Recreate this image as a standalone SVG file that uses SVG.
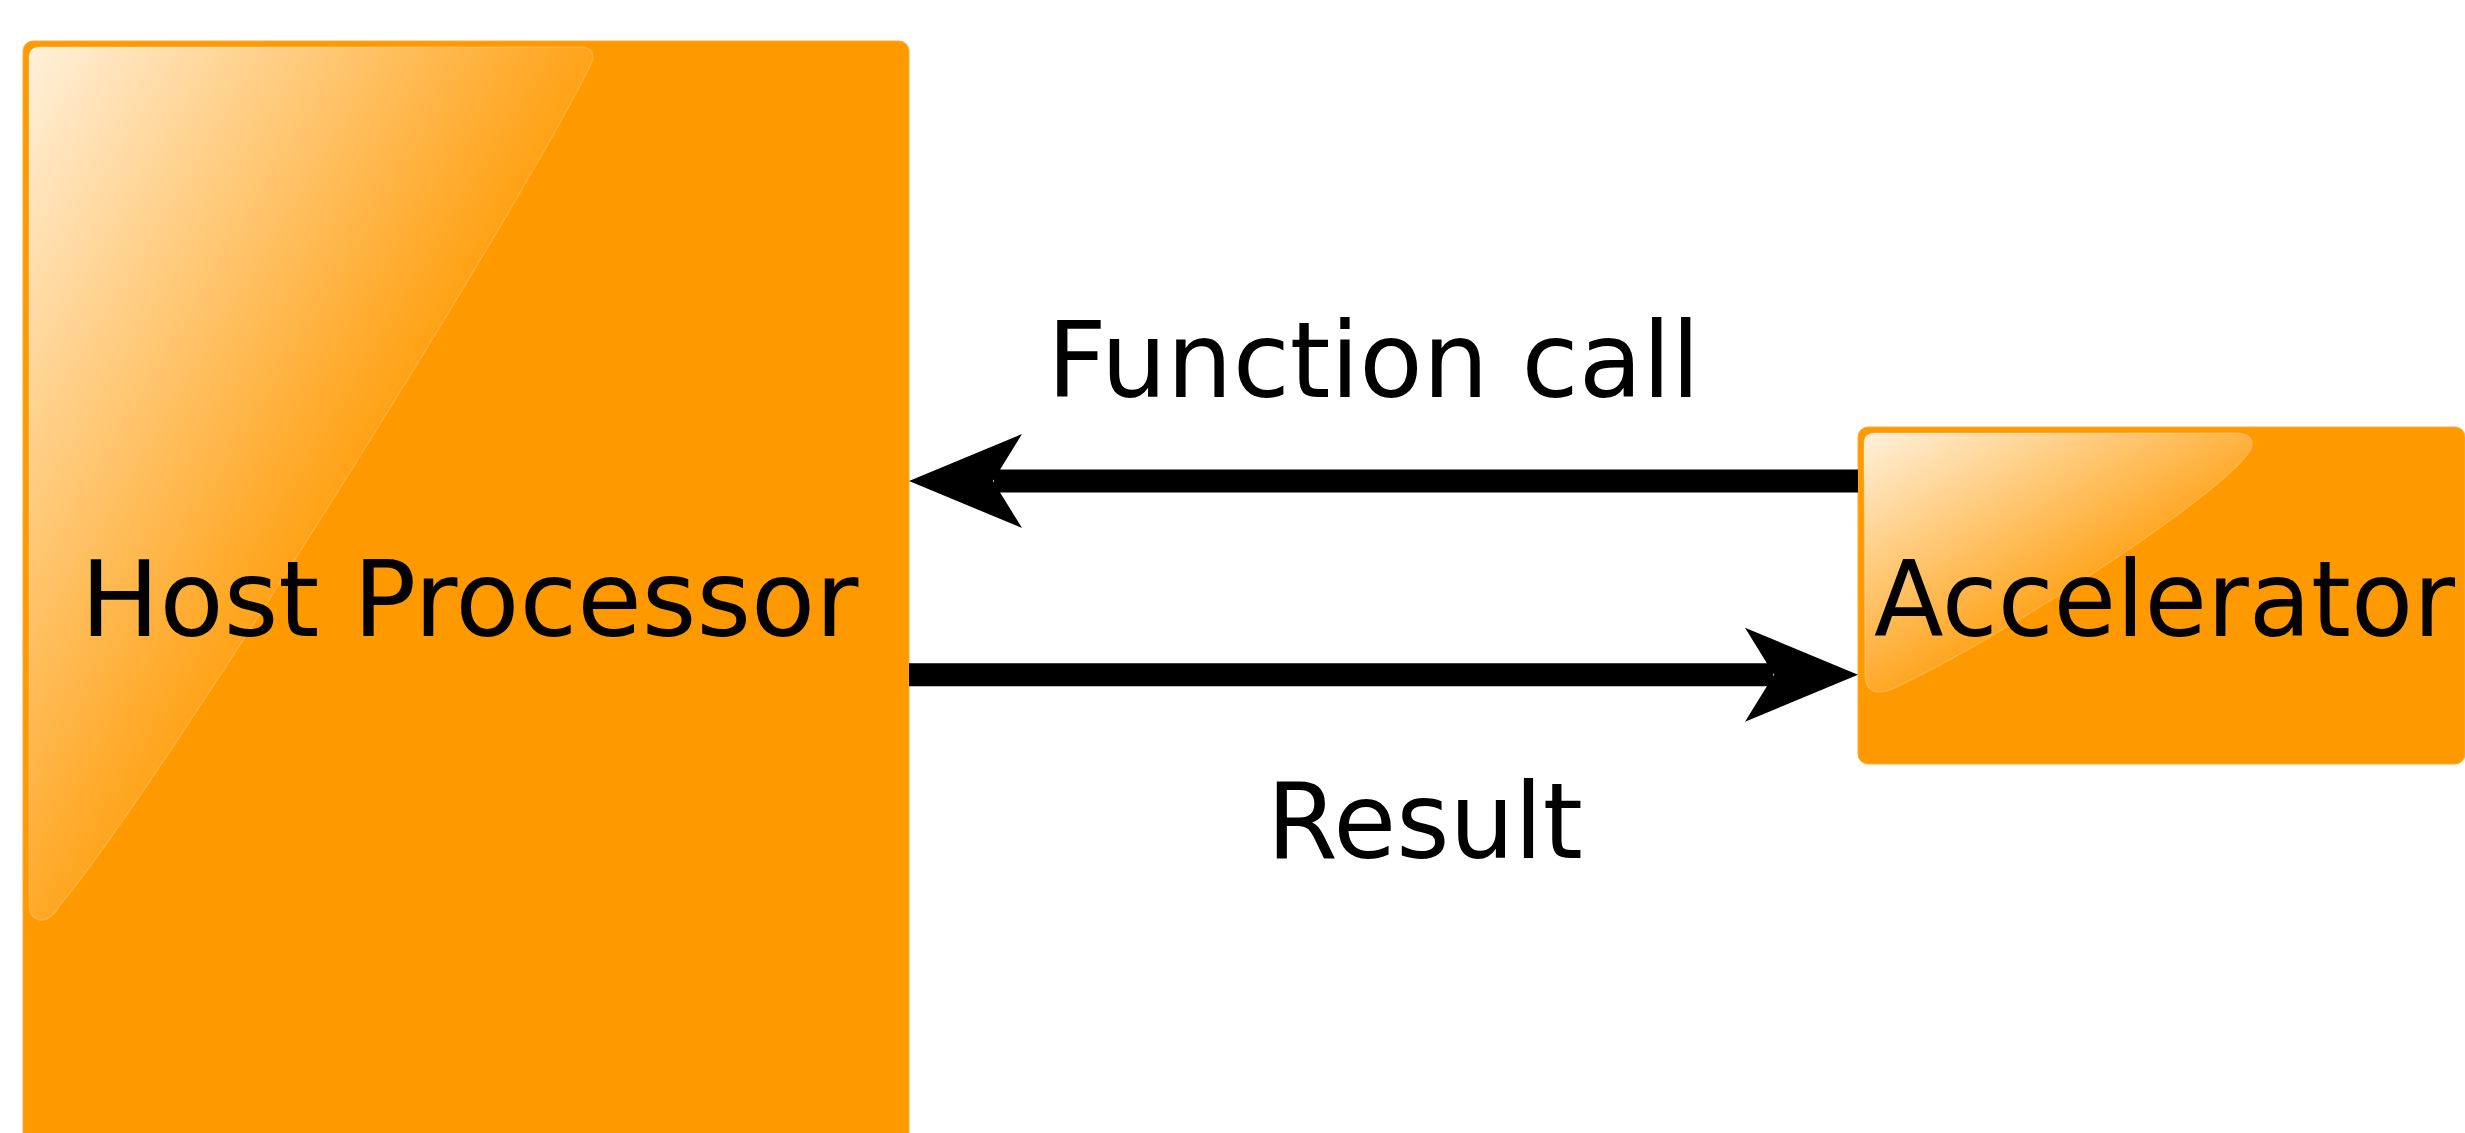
<svg xmlns="http://www.w3.org/2000/svg" width="2465" height="1133" viewBox="0 0 2465 1133">
  <style>
    .box { fill: #ff9900; stroke: #ffab33; stroke-width: 1; }
    .label { font-family: "DejaVu Sans", "Liberation Sans", sans-serif; font-size: 106px; fill: #000000; }
    .wire { fill: none; stroke: #000000; stroke-width: 23; }
    .hl { stroke: #ffffff; stroke-opacity: 0.18; stroke-width: 1.5; }
  </style>
  <defs>
    <linearGradient id="gHost" gradientUnits="userSpaceOnUse" x1="29" y1="47" x2="469" y2="310">
      <stop offset="0" stop-color="#ffffff" stop-opacity="0.86"/>
      <stop offset="1" stop-color="#ffffff" stop-opacity="0.06"/>
    </linearGradient>
    <linearGradient id="gAcc" gradientUnits="userSpaceOnUse" x1="1865" y1="433" x2="1992" y2="652">
      <stop offset="0" stop-color="#ffffff" stop-opacity="0.86"/>
      <stop offset="1" stop-color="#ffffff" stop-opacity="0.08"/>
    </linearGradient>
    <marker id="head" markerUnits="userSpaceOnUse" viewBox="-115 -50 120 100" markerWidth="120" markerHeight="100" refX="-85" refY="0" orient="auto" overflow="visible">
      <path d="M0,0 L-113,-47 L-84,0 L-113,47 Z" fill="#000000"/>
    </marker>
  </defs>

  <rect width="2465" height="1133" fill="#ffffff"/>

  <g id="host-processor">
    <rect class="box" x="23" y="41" width="886" height="1110" rx="10" ry="10"/>
    <path class="hl" fill="url(#gHost)" d="M29,58 Q29,47 40,47 L580,47 Q598,48 591,64 C520,210 150,800 60,905 Q50,922 40,920 Q29,918 29,905 Z"/>
    <text class="label" x="80.5" y="636" textLength="778" lengthAdjust="spacingAndGlyphs">Host Processor</text>
  </g>

  <g id="accelerator">
    <rect class="box" x="1858" y="427" width="607" height="337" rx="10" ry="10"/>
    <path class="hl" fill="url(#gAcc)" d="M1864,444 Q1864,433 1875,433 L2236,433 Q2256,434 2251,449 C2230,490 2000,640 1890,690 Q1866,698 1865,675 Z"/>
    <text class="label" x="1874" y="636" textLength="581" lengthAdjust="spacingAndGlyphs">Accelerator</text>
  </g>

  <g id="connectors">
    <path class="wire" d="M1858,481 H994" marker-end="url(#head)"/>
    <path class="wire" d="M909,674.7 H1773" marker-end="url(#head)"/>
    <text class="label" x="1047" y="397" textLength="653" lengthAdjust="spacingAndGlyphs">Function call</text>
    <text class="label" x="1266.8" y="858" textLength="316" lengthAdjust="spacingAndGlyphs">Result</text>
  </g>
</svg>
